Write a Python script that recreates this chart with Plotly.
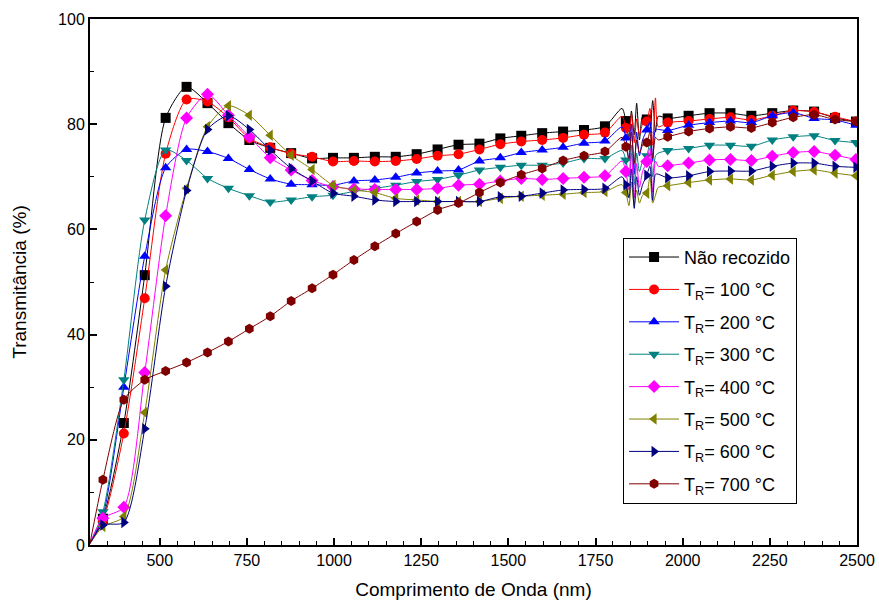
import plotly.graph_objects as go

# Marker wavelength grid (nm)
WL = [337, 397, 457, 517, 577, 637, 697, 757, 817, 877, 937, 997, 1057, 1117,
      1177, 1237, 1297, 1357, 1417, 1477, 1537, 1597, 1657, 1717, 1777, 1837,
      1897, 1957, 2017, 2077, 2137, 2197, 2257, 2317, 2377, 2437, 2497]
START_WL = 300
START_T = 0.3

T_NAO = [5.0, 23.2, 51.3, 81.2, 87.1, 84.0, 80.2, 77.0, 75.5, 74.5, 73.5, 73.6, 73.6, 73.8,
         73.8, 74.3, 75.2, 76.1, 76.3, 77.3, 77.8, 78.3, 78.6, 78.9, 79.6, 80.6,
         80.9, 81.1, 81.6, 82.1, 82.1, 81.6, 82.1, 82.6, 82.4, 81.2, 80.5]
T_100 = [4.5, 21.2, 46.9, 74.4, 84.7, 84.3, 81.3, 77.3, 75.6, 74.4, 73.8, 72.9, 73.0, 72.9,
         73.0, 73.4, 74.0, 74.3, 75.2, 76.2, 76.7, 77.0, 77.4, 78.0, 78.4, 79.3,
         80.5, 80.3, 80.6, 81.0, 81.3, 80.8, 81.6, 82.6, 82.3, 81.4, 80.5]
T_200 = [5.5, 30.0, 54.9, 71.7, 75.2, 74.8, 73.5, 71.4, 69.6, 68.6, 68.5, 68.4, 69.2, 69.4,
         69.9, 70.7, 71.1, 71.3, 73.0, 73.6, 74.6, 75.1, 75.6, 76.4, 76.8, 77.4,
         78.9, 78.8, 79.8, 80.3, 80.6, 80.3, 81.6, 82.2, 81.1, 80.8, 79.8]
T_300 = [6.3, 31.4, 61.8, 75.1, 73.1, 69.7, 67.8, 66.4, 65.2, 65.6, 66.2, 66.5, 67.2, 67.8,
         68.4, 69.1, 69.5, 70.3, 71.3, 71.8, 72.2, 72.2, 72.6, 73.5, 73.5, 73.2,
         74.0, 75.0, 75.4, 76.0, 76.0, 75.8, 77.0, 77.6, 77.8, 76.9, 76.5]
T_400 = [5.1, 7.2, 32.8, 62.6, 81.2, 85.7, 81.7, 77.6, 73.6, 71.3, 69.3, 68.1, 67.7, 67.6,
         67.6, 67.6, 67.8, 68.4, 68.6, 69.2, 69.7, 69.5, 69.7, 69.9, 70.2, 71.0,
         72.9, 72.1, 72.6, 73.2, 73.3, 73.1, 73.9, 74.6, 74.8, 74.1, 73.3]
T_500 = [3.5, 5.4, 25.2, 52.3, 67.8, 79.5, 83.5, 81.7, 77.9, 74.1, 71.4, 68.4, 67.5, 67.0,
         65.9, 65.6, 65.3, 65.3, 65.3, 65.9, 66.3, 66.5, 66.7, 67.0, 67.2, 67.0,
         66.9, 68.3, 68.9, 69.4, 69.6, 69.4, 70.3, 71.0, 71.3, 70.7, 70.2]
T_600 = [3.8, 4.3, 22.1, 49.2, 67.4, 79.0, 81.6, 79.0, 75.1, 71.6, 69.2, 66.9, 66.3, 65.6,
         65.3, 65.3, 65.3, 65.3, 65.3, 66.2, 66.3, 66.9, 67.5, 67.6, 67.8, 68.5,
         70.3, 69.8, 70.2, 71.0, 71.1, 71.1, 72.0, 72.6, 72.6, 72.0, 71.8]
T_700 = [12.4, 27.6, 31.4, 33.1, 34.7, 36.6, 38.7, 41.1, 43.5, 46.4, 48.8, 51.4, 54.2, 56.8,
         59.2, 61.5, 63.7, 65.0, 67.0, 68.9, 70.4, 71.6, 73.1, 74.0, 74.8, 75.7,
         76.5, 77.6, 78.6, 79.2, 79.5, 79.3, 80.3, 81.3, 81.8, 80.9, 80.5]

# Detector-change noise region (nm) and values
NOISE_WL = [1826, 1846, 1853, 1861, 1868, 1876, 1885, 1906, 1914, 1922, 1930]
N_NAO = [83.0, 77.5, 82.5, 78.0, 84.0, 77.0, 81.5, 79.0, 84.5, 78.5, 81.5]
N_100 = [81.5, 77.0, 82.0, 76.5, 81.0, 78.0, 80.0, 83.0, 76.0, 85.0, 79.5]
N_200 = [79.5, 73.0, 80.0, 70.5, 78.5, 74.0, 77.0, 80.5, 73.0, 79.0, 79.0]
N_300 = [75.0, 70.0, 76.0, 68.5, 74.5, 71.0, 73.0, 76.5, 70.0, 74.0, 74.5]
N_400 = [73.0, 67.5, 74.5, 66.0, 72.5, 68.0, 71.0, 75.5, 67.0, 73.0, 72.0]
N_500 = [68.5, 64.5, 69.0, 64.5, 67.5, 65.0, 66.5, 70.0, 65.0, 66.5, 68.0]
N_600 = [70.0, 66.0, 71.5, 64.0, 70.0, 66.5, 68.5, 72.0, 65.5, 70.5, 70.5]
N_700 = [77.5, 73.5, 78.5, 72.5, 77.0, 74.5, 76.0, 78.5, 73.5, 77.5, 77.0]

NAMES = ["Não recozido", "T<sub>R</sub>= 100 °C", "T<sub>R</sub>= 200 °C",
         "T<sub>R</sub>= 300 °C", "T<sub>R</sub>= 400 °C", "T<sub>R</sub>= 500 °C",
         "T<sub>R</sub>= 600 °C", "T<sub>R</sub>= 700 °C"]
SERIES = [T_NAO, T_100, T_200, T_300, T_400, T_500, T_600, T_700]
NOISE = [N_NAO, N_100, N_200, N_300, N_400, N_500, N_600, N_700]
COLORS = ["#000000", "#FF0000", "#0000FF", "#008080", "#FF00FF", "#808000", "#000080", "#800000"]
SYMBOLS = ["square", "circle", "triangle-up", "triangle-down", "diamond",
           "triangle-left", "triangle-right", "hexagon"]

fig = go.Figure()
for name, t, nz, col, sym in zip(NAMES, SERIES, NOISE, COLORS, SYMBOLS):
    pts = sorted(list(zip([START_WL] + WL, [START_T] + t)) + list(zip(NOISE_WL, nz)))
    fig.add_trace(go.Scatter(x=[p[0] for p in pts], y=[p[1] for p in pts], mode="lines",
                             line=dict(color=col, width=1, shape="spline", smoothing=0.7),
                             showlegend=False, hoverinfo="skip"))
    fig.add_trace(go.Scatter(x=WL, y=t, mode="markers", showlegend=False,
                             marker=dict(symbol=sym, color=col, size=10, line=dict(width=0))))
    fig.add_trace(go.Scatter(x=[None], y=[None], mode="lines+markers", name=name,
                             line=dict(color=col, width=1),
                             marker=dict(symbol=sym, color=col, size=10, line=dict(width=0)),
                             legendgroup=name))

font = "Arial, Liberation Sans, sans-serif"
axis_common = dict(showline=True, linecolor="black", linewidth=2, mirror=True,
                   ticks="inside", ticklen=7, tickwidth=1.5, tickcolor="black",
                   showgrid=False, zeroline=False, automargin=False,
                   tickfont=dict(family=font, size=16, color="black"))
fig.update_layout(
    width=879, height=605,
    margin=dict(l=90, r=22, t=19, b=60),
    paper_bgcolor="white", plot_bgcolor="white",
    font=dict(family=font, color="black"),
    xaxis=dict(range=[300, 2500], tick0=0, dtick=250,
               minor=dict(dtick=50, ticks="inside", ticklen=4, tickcolor="black", tickwidth=1),
               title=dict(text="Comprimento de Onda (nm)", font=dict(size=19), standoff=14),
               **axis_common),
    yaxis=dict(range=[0, 100], dtick=20,
               minor=dict(dtick=10, ticks="inside", ticklen=4, tickcolor="black", tickwidth=1),
               title=dict(text="Transmitância (%)", font=dict(size=19), standoff=26),
               **axis_common),
    legend=dict(x=0.695, y=0.584, xanchor="left", yanchor="top",
                bgcolor="white", bordercolor="black", borderwidth=1,
                font=dict(family=font, size=18, color="black"),
                traceorder="grouped", tracegroupgap=6, itemwidth=50),
)
fig.write_html("out.html")
